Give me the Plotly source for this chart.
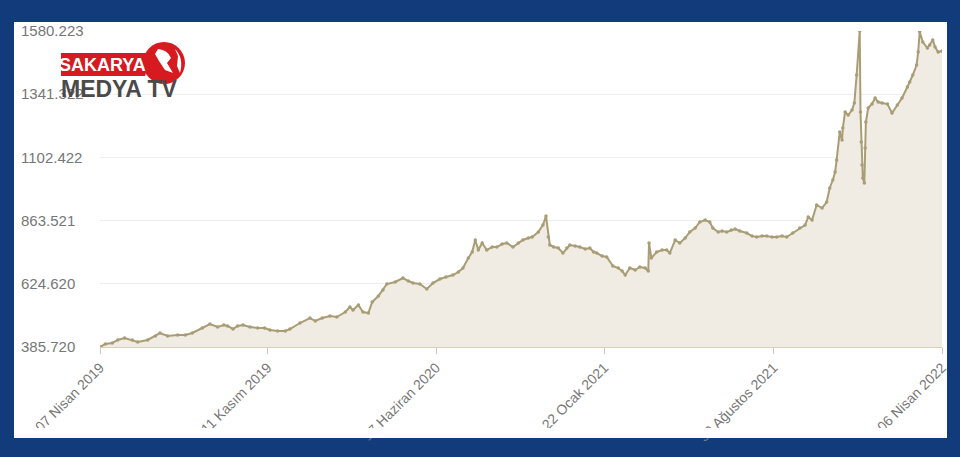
import plotly.graph_objects as go

# ---------------- data ----------------
dates = [
    "2019-04-07", "2019-04-14", "2019-04-23", "2019-04-30", "2019-05-09", "2019-05-19", "2019-05-26",
    "2019-06-08", "2019-06-18", "2019-06-24", "2019-07-04", "2019-07-17", "2019-07-27", "2019-08-05",
    "2019-08-18", "2019-08-28", "2019-09-07", "2019-09-15", "2019-09-20", "2019-09-27", "2019-10-03",
    "2019-10-10", "2019-10-19", "2019-10-29", "2019-11-07", "2019-11-14", "2019-11-24", "2019-12-04",
    "2019-12-10", "2019-12-23", "2020-01-05", "2020-01-12", "2020-01-21", "2020-01-31", "2020-02-09",
    "2020-02-20", "2020-02-26", "2020-03-01", "2020-03-08", "2020-03-14", "2020-03-21", "2020-03-26",
    "2020-04-03", "2020-04-09", "2020-04-14", "2020-04-25", "2020-05-05", "2020-05-12", "2020-05-18",
    "2020-05-27", "2020-06-05", "2020-06-13", "2020-06-22", "2020-06-30", "2020-07-09", "2020-07-16",
    "2020-07-22", "2020-07-29", "2020-08-03", "2020-08-07", "2020-08-11", "2020-08-16", "2020-08-22",
    "2020-08-29", "2020-09-04", "2020-09-11", "2020-09-17", "2020-09-25", "2020-10-02", "2020-10-08",
    "2020-10-15", "2020-10-20", "2020-10-28", "2020-11-03", "2020-11-07", "2020-11-10", "2020-11-12",
    "2020-11-17", "2020-11-23", "2020-11-29", "2020-12-04", "2020-12-08", "2020-12-15", "2020-12-21",
    "2020-12-28", "2021-01-03", "2021-01-08", "2021-01-12", "2021-01-19", "2021-01-25", "2021-02-02",
    "2021-02-09", "2021-02-14", "2021-02-18", "2021-02-24", "2021-03-03", "2021-03-09", "2021-03-16",
    "2021-03-20", "2021-03-21", "2021-03-24", "2021-03-31", "2021-04-07", "2021-04-13", "2021-04-17",
    "2021-04-24", "2021-04-30", "2021-05-07", "2021-05-13", "2021-05-20", "2021-05-26", "2021-06-02",
    "2021-06-08", "2021-06-12", "2021-06-19", "2021-06-24", "2021-06-30", "2021-07-06", "2021-07-11",
    "2021-07-17", "2021-07-26", "2021-08-02", "2021-08-08", "2021-08-15", "2021-08-21", "2021-08-28",
    "2021-09-03", "2021-09-10", "2021-09-16", "2021-09-24", "2021-10-03", "2021-10-10", "2021-10-14",
    "2021-10-19", "2021-10-25", "2021-11-01", "2021-11-07", "2021-11-11", "2021-11-15", "2021-11-18",
    "2021-11-20", "2021-11-24", "2021-11-27", "2021-11-28", "2021-12-01", "2021-12-05", "2021-12-10",
    "2021-12-13", "2021-12-16", "2021-12-20", "2021-12-21", "2021-12-22", "2021-12-23", "2021-12-24",
    "2021-12-26", "2021-12-27", "2021-12-28", "2021-12-31", "2022-01-05", "2022-01-09", "2022-01-13",
    "2022-01-18", "2022-01-25", "2022-01-31", "2022-02-07", "2022-02-13", "2022-02-20", "2022-02-23",
    "2022-02-27", "2022-03-04", "2022-03-06", "2022-03-08", "2022-03-12", "2022-03-18", "2022-03-21",
    "2022-03-25", "2022-03-28", "2022-04-01", "2022-04-06",
]
values = [
    385.72, 397.1, 400.8, 412.2, 419.7, 412.2, 404.6,
    412.2, 427.3, 438.6, 427.3, 431.1, 431.1, 438.6,
    457.5, 472.7, 461.3, 468.9, 465.1, 453.8, 465.1,
    468.9, 461.3, 457.5, 457.5, 450.0, 446.2, 446.2,
    453.8, 476.4, 495.3, 484.0, 495.3, 502.9, 499.1,
    518.0, 536.9, 525.6, 544.5, 518.0, 514.2, 555.8,
    578.5, 601.2, 623.8, 631.4, 646.5, 635.2, 627.6,
    623.8, 604.9, 627.6, 642.7, 650.3, 657.9, 669.2,
    684.3, 722.1, 744.8, 790.2, 752.4, 778.8, 752.4,
    763.7, 763.7, 775.0, 778.8, 763.7, 778.8, 790.2,
    797.7, 801.5, 820.4, 846.9, 880.9, 801.5, 771.3,
    763.7, 759.9, 741.0, 759.9, 771.3, 767.5, 763.7,
    756.1, 759.9, 744.8, 741.0, 729.7, 725.9, 691.9,
    684.3, 673.0, 657.9, 684.3, 676.8, 688.1, 684.3,
    673.0, 778.8, 722.1, 744.8, 752.4, 752.4, 741.0,
    790.2, 778.8, 797.7, 820.4, 835.5, 858.2, 865.8,
    858.2, 835.5, 820.4, 824.2, 820.4, 828.0, 831.7,
    824.2, 816.6, 805.3, 801.5, 805.3, 805.3, 801.5,
    801.5, 805.3, 801.5, 816.6, 835.5, 846.9, 877.1,
    865.8, 922.5, 911.1, 933.8, 986.7, 1017.0, 1047.2,
    1092.6, 1198.4, 1168.2, 1213.5, 1274.0, 1262.7, 1281.6,
    1308.0, 1413.9, 1580.223, 1274.0, 1160.6, 1073.7, 1024.5,
    1005.6, 1137.9, 1236.2, 1289.1, 1304.2, 1326.9, 1311.8,
    1308.0, 1304.2, 1270.2, 1300.5, 1326.9, 1368.5, 1387.4,
    1413.9, 1451.7, 1500.8, 1577.5, 1538.6, 1515.9, 1527.3,
    1546.2, 1519.7, 1500.8, 1504.6,
]

x_tick_dates = ["2019-04-07", "2019-11-11", "2020-06-17", "2021-01-22", "2021-08-30", "2022-04-06"]
x_tick_labels = ["07 Nisan 2019", "11 Kasım 2019", "17 Haziran 2020", "22 Ocak 2021",
                 "30 Ağustos 2021", "06 Nisan 2022"]
y_tick_values = [385.720, 624.620, 863.521, 1102.422, 1341.322, 1580.223]
y_tick_labels = ["385.720", "624.620", "863.521", "1102.422", "1341.322", "1580.223"]

# ---------------- layout geometry ----------------
W, H = 960, 457
ML, MR, MT, MB = 17, 18, 31, 110
PLOT_LEFT = 100


def px(x):
    return (x - ML) / (W - ML - MR)


def py(y):
    return (H - MB - y) / (H - MT - MB)


BLUE = "#113b7a"
LINE = "#a99d76"
FILL = "#f1ece3"
TXT = "#777777"
RED = "#d71920"

fig = go.Figure()
fig.add_trace(go.Scatter(
    x=dates, y=values, mode="lines+markers",
    line=dict(color=LINE, width=2),
    marker=dict(size=3.5, color=LINE),
    fill="tozeroy", fillcolor=FILL,
    hoverinfo="x+y", showlegend=False,
))

shapes = [
    # white panel inside the blue frame
    dict(type="rect", xref="paper", yref="paper", layer="below",
         x0=px(14), x1=px(947), y0=py(438), y1=py(22),
         fillcolor="white", line=dict(width=0)),
    # clip strip at the bottom of the panel (labels cut like the original)
    dict(type="rect", xref="paper", yref="paper", layer="above",
         x0=px(14), x1=px(947), y0=py(438), y1=py(428),
         fillcolor="white", line=dict(width=0)),
    # logo: red globe
    dict(type="circle", xref="paper", yref="paper", layer="above",
         x0=px(143), x1=px(185), y0=py(84), y1=py(42),
         fillcolor=RED, line=dict(width=0)),
    dict(type="path", xref="paper", yref="paper", layer="above",
         path=(f"M {px(158)},{py(49)} Q {px(168)},{py(50)} {px(171)},{py(58)} "
               f"L {px(167)},{py(63)} L {px(173)},{py(73)} L {px(165)},{py(70)} "
               f"L {px(159)},{py(61)} L {px(155)},{py(54)} Z"),
         fillcolor="white", line=dict(width=0)),
    dict(type="path", xref="paper", yref="paper", layer="above",
         path=(f"M {px(175)},{py(49)} Q {px(184)},{py(58)} {px(180)},{py(73)} "
               f"L {px(177)},{py(66)} L {px(178)},{py(56)} Z"),
         fillcolor="white", line=dict(width=0)),
    # logo: red slanted box
    dict(type="path", xref="paper", yref="paper", layer="above",
         path=(f"M {px(61)},{py(53)} L {px(152)},{py(53)} L {px(145)},{py(76)} "
               f"L {px(61)},{py(76)} Z"),
         fillcolor=RED, line=dict(width=0)),
]

annotations = [
    dict(text="SAKARYA", xref="paper", yref="paper", x=px(102), y=py(65),
         xanchor="center", yanchor="middle", showarrow=False,
         font=dict(family="Liberation Sans, Arial", size=18, color="white", weight="bold")),
    dict(text="MEDYA TV", xref="paper", yref="paper", x=px(59), y=py(89),
         xanchor="left", yanchor="middle", showarrow=False,
         font=dict(family="Liberation Sans, Arial", size=23, color="#4a4a4a", weight="bold")),
]

fig.update_layout(
    width=W, height=H,
    margin=dict(l=ML, r=MR, t=MT, b=MB, autoexpand=False),
    paper_bgcolor=BLUE, plot_bgcolor="rgba(0,0,0,0)",
    shapes=shapes, annotations=annotations,
    showlegend=False,
    xaxis=dict(
        type="date", domain=[px(PLOT_LEFT), 1],
        range=["2019-04-07", "2022-04-06"],
        tickmode="array", tickvals=x_tick_dates, ticktext=x_tick_labels,
        tickangle=-45, ticks="outside", ticklen=6, tickcolor="#cfc6b2",
        showline=True, linecolor="#d8cfb8", linewidth=1,
        showgrid=False, zeroline=False,
        tickfont=dict(family="Liberation Sans, Arial", size=14, color=TXT),
    ),
    yaxis=dict(
        range=[385.72, 1580.223], anchor="free", position=0,
        tickmode="array", tickvals=y_tick_values, ticktext=y_tick_labels,
        ticklabelposition="inside", ticklabeloverflow="allow", ticks="",
        showgrid=True, gridcolor="#eeeeee", gridwidth=1,
        zeroline=False, showline=False,
        tickfont=dict(family="Liberation Sans, Arial", size=15, color=TXT),
    ),
)

fig.write_html(
    "out.html",
    config={"displayModeBar": False},
    post_script="document.body.style.margin='0';document.body.style.overflow='hidden';",
)
